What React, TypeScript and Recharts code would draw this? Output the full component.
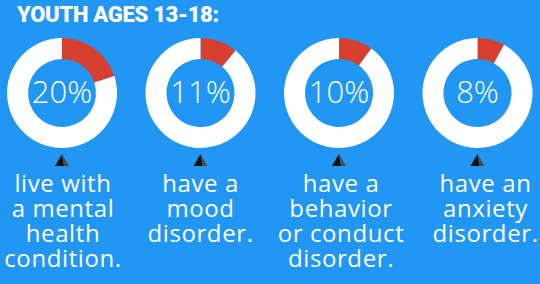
import { PieChart, Pie, Cell, Customized } from "recharts";

const percents = [20, 11, 10, 8];
const percentLabels = ["20%", "11%", "10%", "8%"];
const captions = [
  ["live with", "a mental", "health", "condition."],
  ["have a", "mood", "disorder."],
  ["have a", "behavior", "or conduct", "disorder."],
  ["have an", "anxiety", "disorder."],
];
const title = "YOUTH AGES 13-18:";

const W = 540;
const H = 284;
const BLUE = "#2196f3";
const RED = "#d73f2f";
const colX = (i: number) => 62 + i * 138.5;
const captionShift = [1, 0, 2, 8];
const CY = 93;

function Overlay() {
  return (
    <g>
      {percents.map((_, i) => {
        const x = colX(i);
        return (
          <g key={i}>
            <text
              x={x}
              y={CY + 10}
              textAnchor="middle"
              fill="#fff"
              style={{ fontFamily: "Open Sans", fontWeight: 300, fontSize: 31 }}
            >
              {percentLabels[i]}
            </text>
            <polygon points={`${x},154 ${x - 7},166 ${x + 2},166`} fill="#111" />
            <polygon points={`${x},154 ${x + 2},166 ${x + 7},166`} fill="#4a4a4a" />
          </g>
        );
      })}
    </g>
  );
}

export default function App() {
  return (
    <div
      style={{
        position: "fixed",
        left: 0,
        top: 0,
        width: W,
        height: H,
        background: BLUE,
        overflow: "hidden",
      }}
    >
      <PieChart width={W} height={H} margin={{ top: 0, right: 0, bottom: 0, left: 0 }}>
        {percents.map((p, i) => (
          <Pie
            key={i}
            data={[
              { name: "yes", value: p },
              { name: "rest", value: 100 - p },
            ]}
            dataKey="value"
            cx={colX(i)}
            cy={CY}
            innerRadius={34}
            outerRadius={55}
            startAngle={90}
            endAngle={-270}
            stroke="none"
            isAnimationActive={false}
          >
            <Cell fill={RED} />
            <Cell fill="#ffffff" />
          </Pie>
        ))}
        <Customized component={Overlay} />
      </PieChart>

      <div
        style={{
          position: "absolute",
          left: 17,
          top: 4,
          fontFamily: "Roboto",
          fontWeight: 900,
          fontSize: 22,
          lineHeight: "22px",
          color: "#fff",
          letterSpacing: -0.3,
          whiteSpace: "nowrap",
        }}
      >
        {title}
      </div>

      {captions.map((lines, i) => (
        <div
          key={i}
          style={{
            position: "absolute",
            left: colX(i) - 70 + captionShift[i],
            top: 170,
            width: 140,
            textAlign: "center",
            fontFamily: "Open Sans",
            fontSize: 24,
            lineHeight: "25px",
            letterSpacing: 0.6,
            color: "#fff",
          }}
        >
          {lines.map((l, j) => (
            <div key={j} style={{ whiteSpace: "nowrap" }}>
              {l}
            </div>
          ))}
        </div>
      ))}
    </div>
  );
}
